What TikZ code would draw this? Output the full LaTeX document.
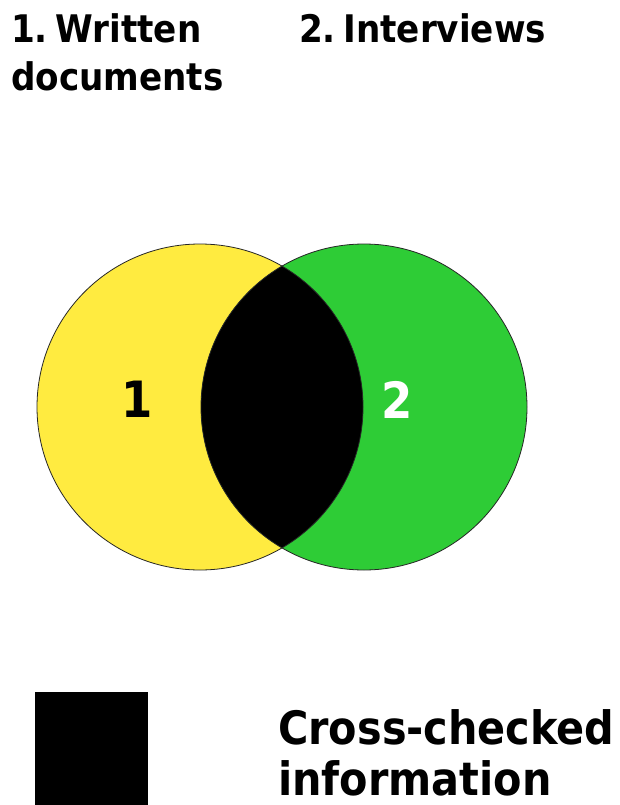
\documentclass[tikz,border=0pt]{standalone}
\usepackage{fontspec}
\usepackage{tikz}
\usepackage{xcolor}
\newfontfamily\labelfont{DejaVu Sans Condensed}
\definecolor{setyellow}{RGB}{255,235,64}
\definecolor{setgreen}{RGB}{46,204,54}
\tikzset{
    headtext/.style={anchor=base west, align=left, inner sep=0pt,
        font=\labelfont\bfseries\fontsize{38}{48}\selectfont},
    legendtext/.style={anchor=base west, align=left, inner sep=0pt,
        font=\labelfont\bfseries\fontsize{46}{51}\selectfont},
    numtext/.style={inner sep=0pt, font=\labelfont\bfseries\fontsize{50}{50}\selectfont}
}

\begin{document}
\begin{tikzpicture}[
    % pixel grid of the reference, y pointing down
    x=1pt, y=-1pt
]
    \useasboundingbox[fill=white] (0,0) rectangle (619,805);

    % Titles of the two sources (base = last line)
    \node[headtext] (written) at (11,91) {1.\hspace{0.2em}Written\\documents};
    \node[headtext] (interviews) at (299,43) {2.\hspace{0.2em}Interviews};

    % The two sets
    \coordinate (c1) at (200,407);
    \coordinate (c2) at (364,407);
    \fill[setyellow] (c1) circle (163);
    \fill[setgreen] (c2) circle (163);

    % Overlap
    \begin{scope}
        \clip (c1) circle (163);
        \fill[black] (c2) circle (163);
    \end{scope}
    \draw[black!85, line width=0.8pt] (c1) circle (163);
    \draw[black!85, line width=0.8pt] (c2) circle (163);

    % Set numbers
    \node[numtext, black] (one) at (137,399) {1};
    \node[numtext, white] (two) at (397,400) {2};

    % Legend
    \node[fill=black, inner sep=0pt, minimum width=113pt, minimum height=120pt,
        anchor=north west] (key) at (35,692) {};
    \node[legendtext] (crossed) at (278,795) {Cross-checked\\information};
\end{tikzpicture}
\end{document}
